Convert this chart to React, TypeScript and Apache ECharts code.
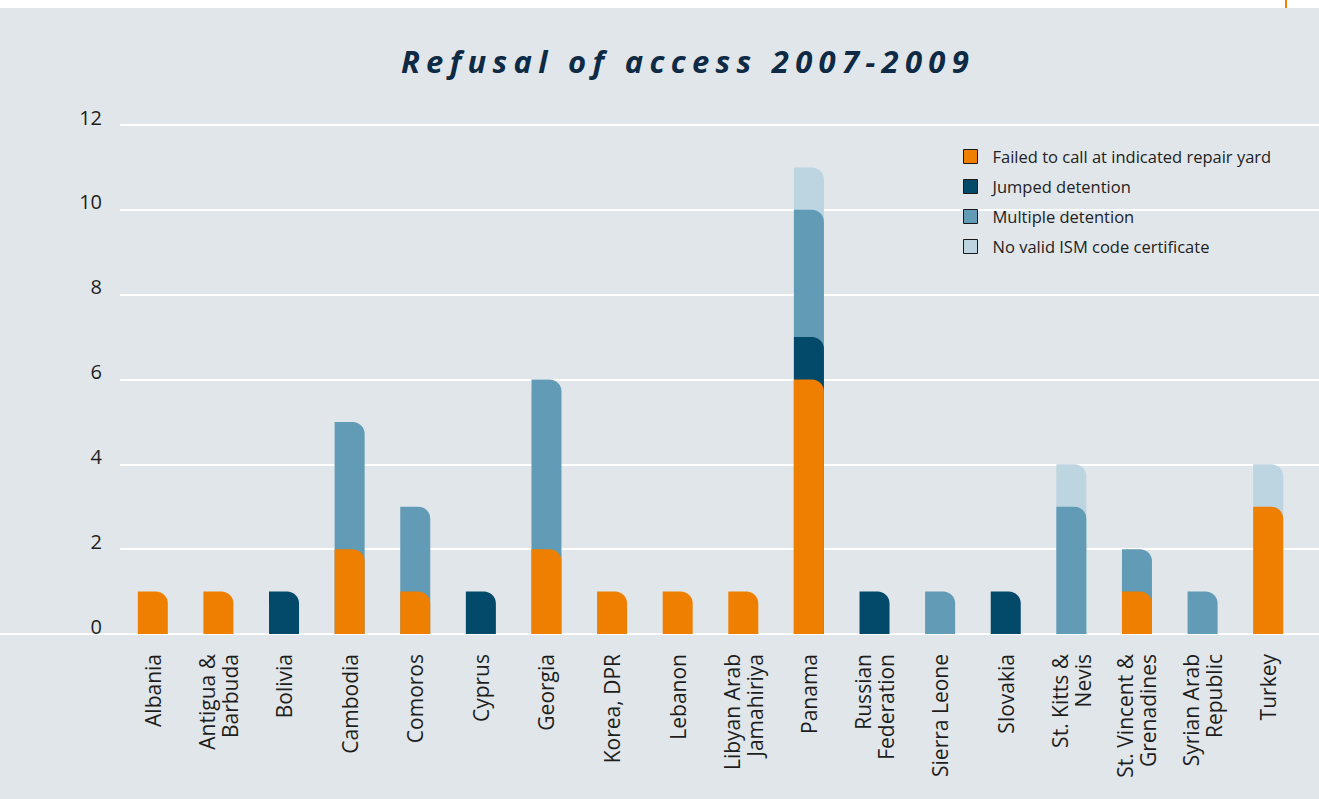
import React, { useEffect, useRef } from "react";
import * as echarts from "echarts";

const TITLE = "Refusal of access 2007-2009";

const categories = [
  "Albania",
  "Antigua &\nBarbuda",
  "Bolivia",
  "Cambodia",
  "Comoros",
  "Cyprus",
  "Georgia",
  "Korea, DPR",
  "Lebanon",
  "Libyan Arab\nJamahiriya",
  "Panama",
  "Russian\nFederation",
  "Sierra Leone",
  "Slovakia",
  "St. Kitts &\nNevis",
  "St. Vincent &\nGrenadines",
  "Syrian Arab\nRepublic",
  "Turkey",
];

const failedToCall = [1, 1, 0, 2, 1, 0, 2, 1, 1, 1, 6, 0, 0, 0, 0, 1, 0, 3];
const jumpedDetention = [0, 0, 1, 0, 0, 1, 0, 0, 0, 0, 1, 1, 0, 1, 0, 0, 0, 0];
const multipleDetention = [0, 0, 0, 3, 2, 0, 4, 0, 0, 0, 3, 0, 1, 0, 3, 1, 1, 0];
const noValidISM = [0, 0, 0, 0, 0, 0, 0, 0, 0, 0, 1, 0, 0, 0, 1, 0, 0, 1];

const seriesNames = [
  "Failed to call at indicated repair yard",
  "Jumped detention",
  "Multiple detention",
  "No valid ISM code certificate",
];

const colors = ["#ee7f00", "#02496a", "#619bb5", "#bdd4e1"];

const yTicks = [0, 2, 4, 6, 8, 10, 12];

export default function App() {
  const ref = useRef<HTMLDivElement>(null);

  useEffect(() => {
    if (!ref.current) return;
    const chart = echarts.init(ref.current, undefined, { renderer: "svg" });

    const layers = [failedToCall, jumpedDetention, multipleDetention, noValidISM];
    // cumulative tops for each layer; null where the layer has no value
    const cumulative = layers.map((layer, li) =>
      layer.map((v, i) => {
        if (!v) return null;
        let s = 0;
        for (let k = 0; k <= li; k++) s += layers[k][i];
        return s;
      })
    );

    const font = "'Open Sans', 'Noto Sans', sans-serif";
    const yMin = yTicks[0];
    const yMax = yTicks[yTicks.length - 1];
    const yInterval = yTicks[1] - yTicks[0];

    const barSeries = [3, 2, 1, 0].map((li) => ({
      name: seriesNames[li],
      type: "bar",
      xAxisIndex: 0,
      yAxisIndex: 0,
      barWidth: 30,
      barGap: "-100%",
      data: cumulative[li],
      itemStyle: { color: colors[li], borderRadius: [0, 12, 0, 0] },
      emphasis: { disabled: true },
    }));

    chart.setOption({
      animation: false,
      backgroundColor: "#ffffff",
      textStyle: { fontFamily: font },
      graphic: [
        {
          type: "rect",
          z: -100,
          shape: { x: 0, y: 8, width: 1319, height: 791 },
          style: { fill: "#e1e6ea" },
        },
        {
          type: "rect",
          z: -100,
          shape: { x: 1285, y: 0, width: 2, height: 8 },
          style: { fill: "#ee7f00" },
        },
      ],
      title: {
        text: TITLE,
        left: 683,
        textAlign: "center",
        top: 40,
        textStyle: {
          fontFamily: "'Open Sans', sans-serif",
          fontStyle: "italic",
          fontWeight: "bold",
          fontSize: 31,
          color: "#0e2a44",
        },
      },
      legend: {
        orient: "vertical",
        left: 958,
        top: 143,
        icon: "rect",
        itemWidth: 14,
        itemHeight: 14,
        itemGap: 13,
        data: seriesNames,
        selectedMode: false,
        itemStyle: { borderColor: "#1a1a1a", borderWidth: 1 },
        textStyle: {
          fontFamily: font,
          fontSize: 16.5,
          color: "#222222",
          lineHeight: 14,
          padding: [0, 0, 0, 10],
        },
      },
      grid: [
        { left: 120, right: 18, top: 125, bottom: 165 },
        { left: 120, right: 0, top: 125, bottom: 165 },
        { left: 0, right: 0, top: 125, bottom: 165 },
      ],
      xAxis: [
        {
          type: "category",
          gridIndex: 0,
          data: categories,
          axisLine: { show: false },
          axisTick: { show: false },
          axisLabel: {
            rotate: 90,
            margin: 20,
            fontFamily: font,
            fontSize: 21,
            lineHeight: 23,
            color: "#1e1e1e",
            interval: 0,
          },
        },
        {
          type: "value",
          gridIndex: 1,
          show: false,
        },
        {
          type: "value",
          gridIndex: 2,
          axisLine: { show: true, lineStyle: { color: "#ffffff", width: 2 } },
          axisTick: { show: false },
          axisLabel: { show: false },
          splitLine: { show: false },
        },
      ],
      yAxis: [
        {
          type: "value",
          gridIndex: 0,
          min: yMin,
          max: yMax,
          interval: yInterval,
          axisLine: { show: false },
          axisTick: { show: false },
          axisLabel: { show: false },
          splitLine: { show: false },
        },
        {
          type: "value",
          gridIndex: 1,
          min: yMin,
          max: yMax,
          interval: yInterval,
          axisLine: { show: false },
          axisTick: { show: false },
          axisLabel: {
            margin: 18,
            fontFamily: font,
            fontSize: 20,
            color: "#1e1e1e",
            verticalAlign: "bottom",
            lineHeight: 16,
          },
          splitLine: { show: true, lineStyle: { color: "#ffffff", width: 2 } },
        },
        {
          type: "value",
          gridIndex: 2,
          min: yMin,
          max: yMax,
          show: false,
        },
      ],
      series: barSeries,
    });

    const spaceTitle = () => {
      const el = ref.current;
      if (!el) return;
      el.querySelectorAll("text").forEach((t) => {
        if (t.textContent === TITLE) {
          t.setAttribute("letter-spacing", "6.3");
          (t as SVGTextElement).style.letterSpacing = "6.3px";
        }
      });
    };
    spaceTitle();
    chart.on("finished", spaceTitle);
    const raf = requestAnimationFrame(spaceTitle);

    return () => {
      cancelAnimationFrame(raf);
      chart.dispose();
    };
  }, []);

  return (
    <div
      ref={ref}
      style={{ position: "fixed", left: 0, top: 0, width: 1319, height: 799 }}
    />
  );
}
